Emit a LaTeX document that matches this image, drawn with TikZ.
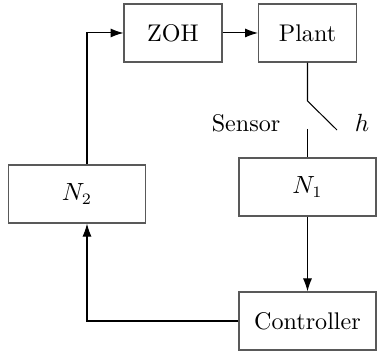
\documentclass[tikz,border=0pt]{standalone}
\usepackage{amsmath}
\usepackage{tikz}
\usetikzlibrary{arrows.meta,calc,positioning}
\tikzset{
  wire/.style={black,line width=0.45pt},
  flow/.style={-{Latex[length=2mm,width=1.4mm]},line width=0.45pt},
  block/.style={draw=black!65,line width=0.6pt,minimum height=25.5pt,
                inner sep=2pt,align=center,font=\fontsize{10.6}{12.5}\selectfont},
  smallblock/.style={block,minimum width=43pt},
  wideblock/.style={block,minimum width=60.3pt},
  lab/.style={font=\fontsize{10.6}{12.5}\selectfont},
}
\begin{document}
\begin{tikzpicture}[x=0.44pt,y=0.44pt]
  \path[use as bounding box] (0,0) rectangle (388,351);

  % forward path
  \node[smallblock] (zoh) at (173,318) {ZOH};
  \node[smallblock] (plant) at (307.5,318) {Plant};
  \draw[flow] (zoh.east) -- (plant.west);

  % sampled sensor
  \coordinate (swtop) at (307.5,250);
  \coordinate (swend) at (337,221);
  \coordinate (swbot) at (307.5,222);
  \node[lab] (sensor) at (246,228) {Sensor};
  \node[lab] (hlab) at (362,228) {$h$};
  \node[wideblock] (nA) at (307.5,164) {$N_1$};
  \draw[wire] (plant.south) -- (swtop) -- (swend);
  \draw[wire] (swbot) -- (nA.north);

  % controller and return path
  \node[wideblock] (ctrl) at (307.5,30) {Controller};
  \node[wideblock] (nB) at (77,157) {$N_2$};
  \draw[flow] (nA.south) -- (ctrl.north);
  \coordinate (loop) at (87,0);
  \draw[flow] (ctrl.west) -| (nB.south -| loop);
  \draw[flow] (nB.north -| loop) |- (zoh.west);
\end{tikzpicture}
\end{document}
